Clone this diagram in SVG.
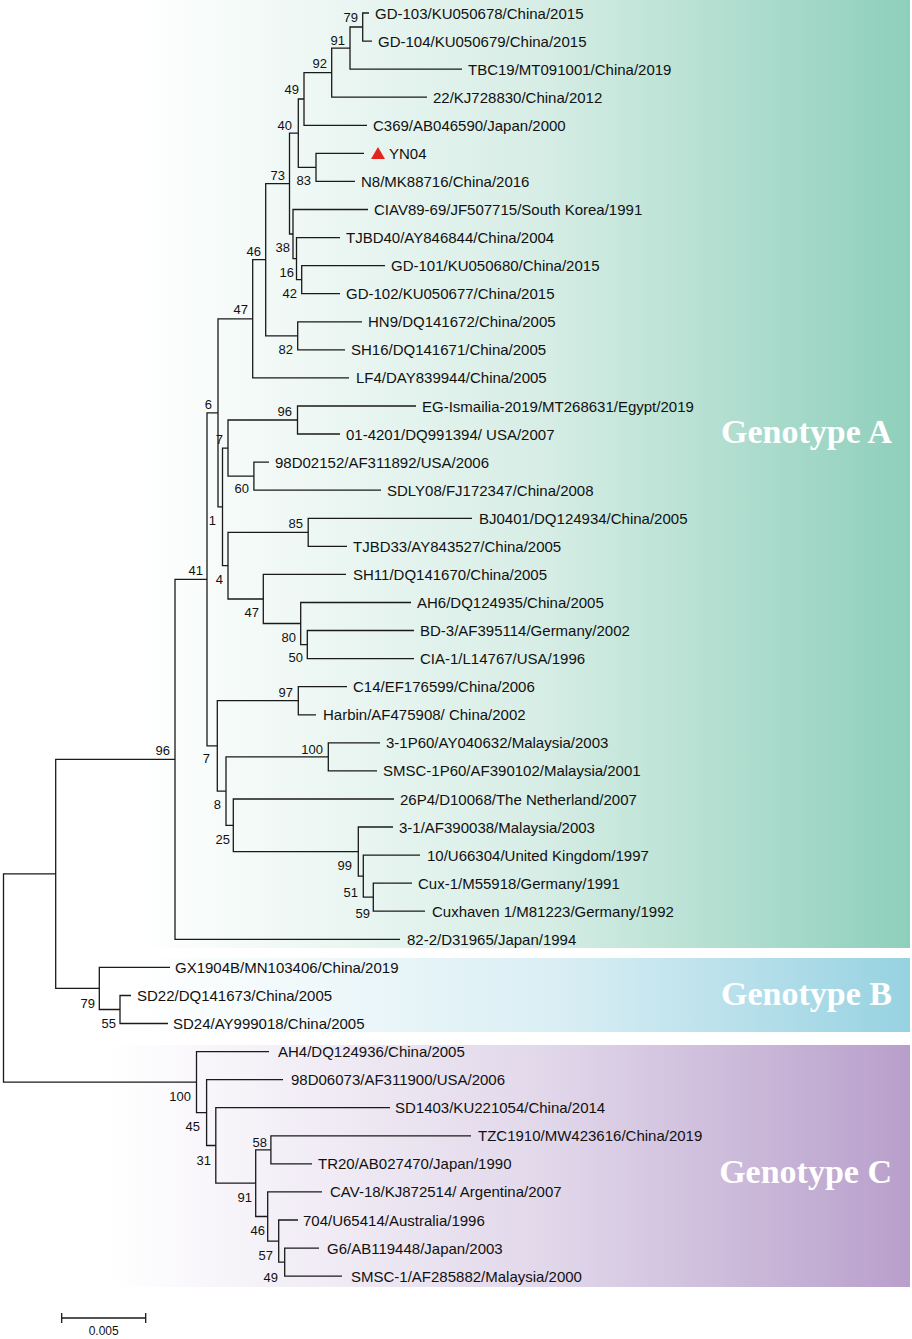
<svg xmlns="http://www.w3.org/2000/svg" width="912" height="1339" viewBox="0 0 912 1339">
<defs>
<linearGradient id="gA" x1="0" y1="0" x2="1" y2="0">
<stop offset="0" stop-color="#ffffff"/><stop offset="0.15" stop-color="#ffffff"/><stop offset="0.6" stop-color="#d6ede5"/><stop offset="1" stop-color="#8ecfbb"/>
</linearGradient>
<linearGradient id="gB" x1="0" y1="0" x2="1" y2="0">
<stop offset="0" stop-color="#ffffff"/><stop offset="0.55" stop-color="#d9eef4"/><stop offset="1" stop-color="#97d2e1"/>
</linearGradient>
<linearGradient id="gC" x1="0" y1="0" x2="1" y2="0">
<stop offset="0" stop-color="#ffffff"/><stop offset="0.55" stop-color="#e1d7ea"/><stop offset="1" stop-color="#b89fcb"/>
</linearGradient>
</defs>
<style>
.br{fill:none;stroke:#1a1a1a;stroke-width:1.3}
.lf{font-family:"Liberation Sans",Arial,sans-serif;font-size:15px;fill:#111}
.bs{font-family:"Liberation Sans",Arial,sans-serif;font-size:13px;fill:#111;text-anchor:end}
.gt{font-family:"Liberation Serif","Times New Roman",serif;font-size:34px;font-weight:bold;fill:#ffffff;text-anchor:end}
</style>
<rect width="912" height="1339" fill="#ffffff"/>
<g id="bands">
<rect x="0" y="0" width="910" height="948" fill="url(#gA)"/>
<rect x="140" y="958" width="770" height="74" fill="url(#gB)"/>
<rect x="110" y="1045" width="800" height="242" fill="url(#gC)"/>
<text class="gt" x="892" y="443">Genotype A</text>
<text class="gt" x="892" y="1005">Genotype B</text>
<text class="gt" x="892" y="1183">Genotype C</text>
</g>
<g id="connectors" class="br">
<path d="M369 13 H362.7 V41.1 H372"/>
<path d="M362.7 27 H350 V69.1 H462"/>
<path d="M350 48.1 H331.7 V97.2 H427"/>
<path d="M331.7 72.6 H304 V125.3 H367"/>
<path d="M364 153.4 H316 V181.4 H355"/>
<path d="M304 99 H298.3 V167.4 H316"/>
<path d="M385 265.6 H301.7 V293.7 H340"/>
<path d="M340 237.6 H296.5 V279.7 H301.7"/>
<path d="M368 209.5 H293 V258.6 H296.5"/>
<path d="M298.3 133.2 H289.5 V234 H293"/>
<path d="M362 321.8 H297.7 V349.8 H345"/>
<path d="M289.5 183.6 H265.7 V335.8 H297.7"/>
<path d="M265.7 259.7 H252.7 V377.9 H349"/>
<path d="M416 406 H297.5 V434 H340"/>
<path d="M269 462.1 H253.9 V490.2 H381"/>
<path d="M297.5 420 H228 V476.1 H253.9"/>
<path d="M472 518.3 H308.2 V546.3 H347"/>
<path d="M414 630.5 H307.3 V658.6 H414"/>
<path d="M411 602.5 H300.7 V644.6 H307.3"/>
<path d="M346 574.4 H263.3 V623.5 H300.7"/>
<path d="M308.2 532.3 H228 V599 H263.3"/>
<path d="M228 448.1 H222.5 V565.6 H228"/>
<path d="M252.7 318.8 H218 V506.9 H222.5"/>
<path d="M347 686.7 H298.3 V714.8 H316"/>
<path d="M380 742.8 H328.3 V770.9 H377"/>
<path d="M412 883.2 H373.3 V911.2 H425"/>
<path d="M420 855.1 H363.3 V897.2 H373.3"/>
<path d="M393 827 H358.3 V876.1 H363.3"/>
<path d="M394 799 H233.3 V851.6 H358.3"/>
<path d="M328.3 756.9 H226 V825.3 H233.3"/>
<path d="M298.3 700.7 H217.3 V791.1 H226"/>
<path d="M218 412.8 H207 V745.9 H217.3"/>
<path d="M207 579.3 H175 V939.3 H400"/>
<path d="M131 995.5 H120 V1023.5 H168"/>
<path d="M170 967.4 H99.3 V1009.5 H120"/>
<path d="M175 759.3 H55.7 V988.4 H99.3"/>
<path d="M319 1248.1 H284.7 V1276.2 H342"/>
<path d="M298 1220 H278.7 V1262.2 H284.7"/>
<path d="M322 1191.9 H267.7 V1241.1 H278.7"/>
<path d="M471 1135.8 H270.9 V1163.9 H312"/>
<path d="M270.9 1149.9 H255.7 V1216.5 H267.7"/>
<path d="M390 1107.7 H215.8 V1183.2 H255.7"/>
<path d="M283 1079.7 H206.6 V1145.5 H215.8"/>
<path d="M269 1051.6 H196.5 V1112.6 H206.6"/>
<path d="M55.7 873.9 H3.5 V1082.1 H196.5"/>
</g>
<g id="leaves">
<g id="leaf-GD-103"><text class="lf" x="375" y="18.5">GD-103/KU050678/China/2015</text></g>
<g id="leaf-GD-104"><text class="lf" x="378" y="46.6">GD-104/KU050679/China/2015</text></g>
<g id="leaf-TBC19"><text class="lf" x="468" y="74.6">TBC19/MT091001/China/2019</text></g>
<g id="leaf-22"><text class="lf" x="433" y="102.7">22/KJ728830/China/2012</text></g>
<g id="leaf-C369"><text class="lf" x="373" y="130.8">C369/AB046590/Japan/2000</text></g>
<g id="leaf-YN04"><polygon points="371,159 385,159 378,147" fill="#e52420"/><text class="lf" x="389" y="158.9">YN04</text></g>
<g id="leaf-N8"><text class="lf" x="361" y="186.9">N8/MK88716/China/2016</text></g>
<g id="leaf-CIAV89-69"><text class="lf" x="374" y="215">CIAV89-69/JF507715/South Korea/1991</text></g>
<g id="leaf-TJBD40"><text class="lf" x="346" y="243.1">TJBD40/AY846844/China/2004</text></g>
<g id="leaf-GD-101"><text class="lf" x="391" y="271.1">GD-101/KU050680/China/2015</text></g>
<g id="leaf-GD-102"><text class="lf" x="346" y="299.2">GD-102/KU050677/China/2015</text></g>
<g id="leaf-HN9"><text class="lf" x="368" y="327.3">HN9/DQ141672/China/2005</text></g>
<g id="leaf-SH16"><text class="lf" x="351" y="355.3">SH16/DQ141671/China/2005</text></g>
<g id="leaf-LF4"><text class="lf" x="356" y="383.4">LF4/DAY839944/China/2005</text></g>
<g id="leaf-EG"><text class="lf" x="422" y="411.5">EG-Ismailia-2019/MT268631/Egypt/2019</text></g>
<g id="leaf-01-4201"><text class="lf" x="346" y="439.5">01-4201/DQ991394/ USA/2007</text></g>
<g id="leaf-98D02152"><text class="lf" x="275" y="467.6">98D02152/AF311892/USA/2006</text></g>
<g id="leaf-SDLY08"><text class="lf" x="387" y="495.7">SDLY08/FJ172347/China/2008</text></g>
<g id="leaf-BJ0401"><text class="lf" x="479" y="523.8">BJ0401/DQ124934/China/2005</text></g>
<g id="leaf-TJBD33"><text class="lf" x="353" y="551.8">TJBD33/AY843527/China/2005</text></g>
<g id="leaf-SH11"><text class="lf" x="353" y="579.9">SH11/DQ141670/China/2005</text></g>
<g id="leaf-AH6"><text class="lf" x="417" y="608">AH6/DQ124935/China/2005</text></g>
<g id="leaf-BD-3"><text class="lf" x="420" y="636">BD-3/AF395114/Germany/2002</text></g>
<g id="leaf-CIA-1"><text class="lf" x="420" y="664.1">CIA-1/L14767/USA/1996</text></g>
<g id="leaf-C14"><text class="lf" x="353" y="692.2">C14/EF176599/China/2006</text></g>
<g id="leaf-Harbin"><text class="lf" x="323" y="720.3">Harbin/AF475908/ China/2002</text></g>
<g id="leaf-3-1P60"><text class="lf" x="386" y="748.3">3-1P60/AY040632/Malaysia/2003</text></g>
<g id="leaf-SMSC-1P60"><text class="lf" x="383" y="776.4">SMSC-1P60/AF390102/Malaysia/2001</text></g>
<g id="leaf-26P4"><text class="lf" x="400" y="804.5">26P4/D10068/The Netherland/2007</text></g>
<g id="leaf-3-1"><text class="lf" x="399" y="832.5">3-1/AF390038/Malaysia/2003</text></g>
<g id="leaf-10"><text class="lf" x="427" y="860.6">10/U66304/United Kingdom/1997</text></g>
<g id="leaf-Cux-1"><text class="lf" x="418" y="888.7">Cux-1/M55918/Germany/1991</text></g>
<g id="leaf-Cuxhaven1"><text class="lf" x="432" y="916.7">Cuxhaven 1/M81223/Germany/1992</text></g>
<g id="leaf-82-2"><text class="lf" x="407" y="944.8">82-2/D31965/Japan/1994</text></g>
<g id="leaf-GX1904B"><text class="lf" x="175" y="972.9">GX1904B/MN103406/China/2019</text></g>
<g id="leaf-SD22"><text class="lf" x="137" y="1001">SD22/DQ141673/China/2005</text></g>
<g id="leaf-SD24"><text class="lf" x="173" y="1029">SD24/AY999018/China/2005</text></g>
<g id="leaf-AH4"><text class="lf" x="278" y="1057.1">AH4/DQ124936/China/2005</text></g>
<g id="leaf-98D06073"><text class="lf" x="291" y="1085.2">98D06073/AF311900/USA/2006</text></g>
<g id="leaf-SD1403"><text class="lf" x="395" y="1113.2">SD1403/KU221054/China/2014</text></g>
<g id="leaf-TZC1910"><text class="lf" x="478" y="1141.3">TZC1910/MW423616/China/2019</text></g>
<g id="leaf-TR20"><text class="lf" x="318" y="1169.4">TR20/AB027470/Japan/1990</text></g>
<g id="leaf-CAV-18"><text class="lf" x="330" y="1197.4">CAV-18/KJ872514/ Argentina/2007</text></g>
<g id="leaf-704"><text class="lf" x="303" y="1225.5">704/U65414/Australia/1996</text></g>
<g id="leaf-G6"><text class="lf" x="327" y="1253.6">G6/AB119448/Japan/2003</text></g>
<g id="leaf-SMSC-1"><text class="lf" x="351" y="1281.7">SMSC-1/AF285882/Malaysia/2000</text></g>
</g>
<g id="bootstrap">
<text class="bs" x="358" y="21.6">79</text>
<text class="bs" x="345" y="44.6">91</text>
<text class="bs" x="327" y="67.6">92</text>
<text class="bs" x="299" y="93.6">49</text>
<text class="bs" x="292" y="129.6">40</text>
<text class="bs" x="311" y="184.6">83</text>
<text class="bs" x="285" y="179.6">73</text>
<text class="bs" x="290" y="251.6">38</text>
<text class="bs" x="294" y="276.6">16</text>
<text class="bs" x="297" y="297.6">42</text>
<text class="bs" x="261" y="255.6">46</text>
<text class="bs" x="248" y="313.6">47</text>
<text class="bs" x="293" y="353.6">82</text>
<text class="bs" x="212" y="408.6">6</text>
<text class="bs" x="292" y="415.6">96</text>
<text class="bs" x="223" y="443.6">7</text>
<text class="bs" x="249" y="492.6">60</text>
<text class="bs" x="216" y="524.6">1</text>
<text class="bs" x="303" y="527.6">85</text>
<text class="bs" x="203" y="574.6">41</text>
<text class="bs" x="223" y="583.6">4</text>
<text class="bs" x="259" y="616.6">47</text>
<text class="bs" x="296" y="641.6">80</text>
<text class="bs" x="303" y="661.6">50</text>
<text class="bs" x="293" y="696.6">97</text>
<text class="bs" x="210" y="762.6">7</text>
<text class="bs" x="170" y="754.6">96</text>
<text class="bs" x="323" y="753.6">100</text>
<text class="bs" x="221" y="808.6">8</text>
<text class="bs" x="230" y="843.6">25</text>
<text class="bs" x="352" y="869.6">99</text>
<text class="bs" x="358" y="896.6">51</text>
<text class="bs" x="370" y="917.6">59</text>
<text class="bs" x="95" y="1007.6">79</text>
<text class="bs" x="116" y="1027.6">55</text>
<text class="bs" x="191" y="1100.6">100</text>
<text class="bs" x="200" y="1130.6">45</text>
<text class="bs" x="211" y="1164.6">31</text>
<text class="bs" x="252" y="1201.6">91</text>
<text class="bs" x="267" y="1146.6">58</text>
<text class="bs" x="265" y="1234.6">46</text>
<text class="bs" x="273" y="1259.6">57</text>
<text class="bs" x="278" y="1281.6">49</text>
</g>
<g id="scalebar">
<path class="br" d="M61.7 1318 H145.7 M61.7 1313 V1323 M145.7 1313 V1323"/>
<text font-family="'Liberation Sans',Arial,sans-serif" font-size="12" fill="#111" text-anchor="middle" x="103.7" y="1335">0.005</text>
</g>
</svg>
